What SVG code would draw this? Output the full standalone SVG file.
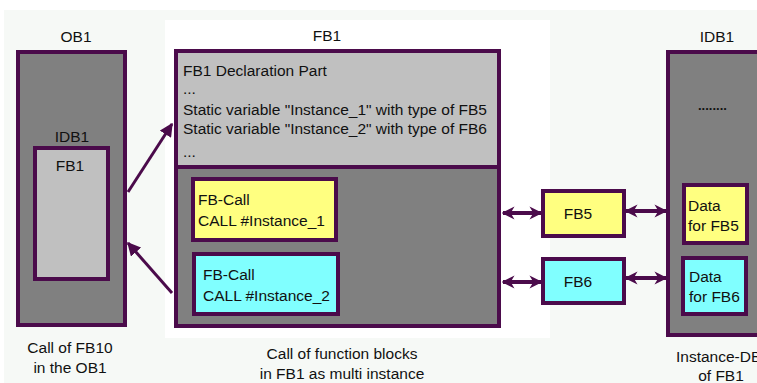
<svg xmlns="http://www.w3.org/2000/svg" width="757" height="383" viewBox="0 0 757 383">
  <style>
    text { font-family: "Liberation Sans", Arial, sans-serif; font-size: 15.5px; fill: #111; }
    .mid { text-anchor: middle; }
    .box { stroke: #4b0b4b; stroke-width: 4; }
    .dark { fill: #808080; }
    .light { fill: #c0c0c0; }
    .yellow { fill: #ffff80; }
    .cyan { fill: #80ffff; }
    .conn { stroke: #4b0b4b; fill: none; }
  </style>
  <defs>
    <marker id="head" viewBox="0 0 10 10" refX="9" refY="5" markerWidth="4.5" markerHeight="4.5" orient="auto-start-reverse" markerUnits="strokeWidth">
      <path d="M0,0 L10,5 L0,10 Z" fill="#4b0b4b"/>
    </marker>
    <marker id="dhead" viewBox="0 0 10 10" refX="9" refY="5" markerWidth="3.2" markerHeight="3.4" orient="auto-start-reverse" markerUnits="strokeWidth">
      <path d="M0,0 L10,5 L0,10 L3,5 Z" fill="#4b0b4b"/>
    </marker>
  </defs>

  <!-- background -->
  <rect width="757" height="383" fill="#ffffff"/>
  <rect x="4" y="10" width="753" height="373" fill="#f6f9f6"/>
  <rect x="165" y="20" width="385" height="318" fill="#ffffff"/>

  <!-- OB1 -->
  <g id="ob1">
    <text x="76" y="42" class="mid">OB1</text>
    <rect x="18" y="52" width="107" height="273" class="box dark"/>
    <text x="72" y="142" class="mid">IDB1</text>
    <rect x="35" y="148" width="73" height="131" class="box light"/>
    <text x="70" y="171" class="mid">FB1</text>
    <text x="70" y="353" class="mid">Call of FB10</text>
    <text x="70" y="373" class="mid">in the OB1</text>
  </g>

  <!-- FB1 -->
  <g id="fb1">
    <text x="327" y="41" class="mid">FB1</text>
    <rect x="176" y="51" width="323" height="275" class="box dark"/>
    <rect x="176" y="51" width="323" height="116" class="box light"/>
    <text x="183" y="76">FB1 Declaration Part</text>
    <text x="183" y="94">...</text>
    <text x="183" y="115">Static variable "Instance_1" with type of FB5</text>
    <text x="183" y="134">Static variable "Instance_2" with type of FB6</text>
    <text x="183" y="157">...</text>
    <text x="342" y="359" class="mid">Call of function blocks</text>
    <text x="342" y="379" class="mid">in FB1 as multi instance</text>
  </g>

  <g id="call1">
    <rect x="193" y="179" width="143" height="61" class="box yellow"/>
    <text x="198" y="205">FB-Call</text>
    <text x="198" y="226">CALL #Instance_1</text>
  </g>

  <g id="call2">
    <rect x="194" y="254" width="144" height="60" class="box cyan"/>
    <text x="203" y="280">FB-Call</text>
    <text x="203" y="301">CALL #Instance_2</text>
  </g>

  <!-- FB5 / FB6 -->
  <g id="fb5">
    <rect x="543" y="191" width="81" height="45" class="box yellow"/>
    <text x="578" y="219" class="mid">FB5</text>
  </g>
  <g id="fb6">
    <rect x="543" y="259" width="81" height="44" class="box cyan"/>
    <text x="578" y="287" class="mid">FB6</text>
  </g>

  <!-- Instance DB -->
  <g id="idb1">
    <text x="717" y="42" class="mid">IDB1</text>
    <rect x="668" y="52" width="100" height="283" class="box dark"/>
    <text x="698" y="110" style="font-weight:bold;font-size:13px">........</text>
    <text x="676" y="362">Instance-DB</text>
    <text x="721" y="381" class="mid">of FB1</text>
  </g>
  <g id="data5">
    <rect x="684" y="185" width="63" height="58" class="box yellow"/>
    <text x="688" y="211">Data</text>
    <text x="688" y="231">for FB5</text>
  </g>
  <g id="data6">
    <rect x="683" y="258" width="63" height="56" class="box cyan"/>
    <text x="689" y="282">Data</text>
    <text x="689" y="302">for FB6</text>
  </g>

  <!-- connectors -->
  <g id="connectors">
    <line x1="128" y1="192" x2="172" y2="124" class="conn" stroke-width="3" marker-end="url(#head)"/>
    <line x1="172" y1="293" x2="128" y2="243" class="conn" stroke-width="3" marker-end="url(#head)"/>
    <line x1="503" y1="213" x2="541" y2="213" class="conn" stroke-width="4" marker-start="url(#dhead)" marker-end="url(#dhead)"/>
    <line x1="503" y1="282" x2="541" y2="282" class="conn" stroke-width="4" marker-start="url(#dhead)" marker-end="url(#dhead)"/>
    <line x1="626" y1="211" x2="666" y2="211" class="conn" stroke-width="4" marker-start="url(#dhead)" marker-end="url(#dhead)"/>
    <line x1="626" y1="278" x2="666" y2="278" class="conn" stroke-width="4" marker-start="url(#dhead)" marker-end="url(#dhead)"/>
  </g>
</svg>
